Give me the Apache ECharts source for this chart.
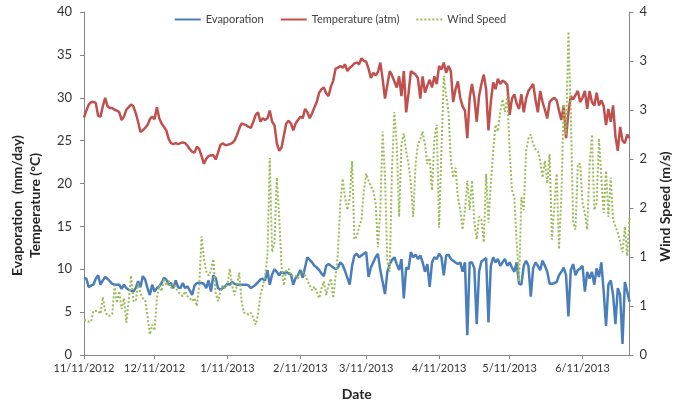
<!DOCTYPE html>
<html>
<head>
<meta charset="utf-8">
<script src="https://cdn.jsdelivr.net/npm/echarts@6/dist/echarts.min.js"></script>
<style>
html,body{margin:0;padding:0;background:#fff;}
#chart{width:680px;height:406px;}
</style>
</head>
<body>
<div id="chart"></div>
<script>
// Daily series, 11/11/2012 .. 7/1/2013 (233 days)
const startDate = [2012, 11, 11];
const dayCount = 233;

const evaporation = [
  9.0, 8.9, 7.9, 8.1, 8.2, 8.9, 9.3, 8.2, 8.7, 9.1,
  8.9, 8.6, 8.3, 8.2, 8.2, 8.2, 7.7, 8.2, 7.8, 7.6,
  7.5, 7.4, 7.8, 8.6, 7.9, 9.2, 8.8, 7.8, 7.0, 8.2,
  7.4, 7.8, 8.0, 8.4, 9.0, 8.8, 8.2, 8.4, 7.8, 8.7,
  7.9, 7.8, 8.4, 7.8, 8.0, 7.5, 7.0, 8.1, 8.4, 8.4,
  8.4, 8.3, 7.8, 8.7, 7.4, 9.3, 9.0, 7.8, 7.6, 7.8,
  8.0, 8.3, 8.2, 8.5, 8.3, 8.2, 8.2, 8.2, 8.2, 8.2,
  8.1, 7.8, 8.0, 8.2, 8.5, 8.8, 8.9, 8.7, 9.9, 8.2,
  9.4, 10.0, 9.7, 9.3, 9.7, 9.5, 9.7, 9.5, 9.4, 8.2,
  9.0, 9.3, 9.9, 9.0, 10.2, 11.4, 11.1, 10.8, 10.4, 10.2,
  9.9, 9.5, 9.2, 10.4, 10.6, 10.4, 10.2, 10.0, 10.2, 10.8,
  10.5, 9.8, 9.0, 8.2, 10.4, 11.6, 11.8, 11.4, 11.6, 11.8,
  12.0, 9.1, 10.2, 10.8, 11.4, 11.8, 9.9, 8.5, 7.1, 9.7,
  10.6, 11.1, 11.4, 10.6, 9.9, 11.2, 6.6, 10.2, 10.0, 12.0,
  11.4, 11.7, 11.2, 11.6, 10.8, 9.7, 10.6, 7.95, 10.8, 11.4,
  11.2, 11.8, 11.4, 9.3, 11.6, 11.7, 11.2, 11.0, 10.8, 10.6,
  10.8, 9.7, 10.8, 2.3, 10.8, 10.8, 10.1, 3.6, 9.7, 10.9,
  11.1, 11.3, 3.8, 10.4, 11.4, 10.8, 11.2, 10.4, 10.8, 11.2,
  10.4, 10.8, 10.2, 9.7, 10.8, 8.3, 8.2, 10.4, 11.0, 10.4,
  6.8, 10.1, 10.8, 10.4, 9.9, 11.0, 10.4, 9.7, 8.3, 8.3,
  8.4, 8.5, 9.3, 9.7, 10.2, 9.3, 4.5, 9.9, 10.6, 9.3,
  9.9, 10.1, 10.4, 7.4, 9.7, 8.9, 9.7, 8.2, 10.1, 9.1,
  10.8, 7.4, 3.4, 8.2, 8.7, 7.0, 3.6, 7.8, 7.0, 1.3,
  8.5, 7.4, 6.2
];

const temperature = [
  27.7, 28.5, 29.2, 29.5, 29.5, 29.4, 27.9, 27.8, 29.0, 30.0,
  29.0, 28.8, 28.8, 28.6, 28.5, 28.3, 27.4, 27.8, 28.6, 28.9,
  29.2, 29.0, 28.2, 27.2, 26.0, 26.2, 26.5, 26.8, 27.5, 27.8,
  27.5, 28.9, 27.6, 27.0, 26.6, 26.2, 25.2, 24.7, 24.6, 24.7,
  24.6, 24.7, 24.8, 24.7, 24.4, 24.0, 23.7, 23.6, 24.3, 24.0,
  23.2, 22.3, 22.9, 23.2, 23.3, 23.3, 22.8, 23.6, 24.5, 24.7,
  24.5, 24.5, 24.6, 24.7, 25.0, 25.6, 26.4, 27.0, 26.9, 26.8,
  26.6, 26.5, 27.2, 28.0, 28.3, 27.2, 27.6, 27.4, 27.6, 28.5,
  27.2, 26.8, 24.7, 23.8, 24.2, 25.6, 27.0, 27.3, 27.0, 26.2,
  27.0, 27.4, 27.8, 27.6, 28.7, 28.3, 27.6, 28.2, 28.9, 29.5,
  30.6, 31.0, 31.2, 30.5, 30.2, 31.3, 32.0, 33.4, 33.5, 33.7,
  33.5, 33.9, 33.1, 33.5, 33.7, 34.0, 34.1, 33.9, 34.6, 34.3,
  34.2, 33.4, 32.3, 32.9, 32.6, 33.0, 34.1, 32.2, 29.9, 31.5,
  33.1, 32.6, 31.9, 31.2, 32.5, 30.2, 33.1, 28.3, 30.5, 33.1,
  32.9, 32.7, 32.3, 29.9, 32.5, 30.6, 31.4, 32.1, 31.2, 32.5,
  31.6, 33.7, 33.3, 34.1, 32.9, 33.7, 33.1, 29.5, 31.0, 31.9,
  30.0, 29.0, 28.5, 25.3, 30.0, 31.6, 30.0, 27.2, 30.2, 31.6,
  32.7, 31.0, 26.2, 29.5, 31.8, 31.0, 32.2, 31.6, 32.0, 31.8,
  31.5, 28.0, 29.9, 30.4, 29.3, 28.7, 30.4, 28.3, 29.9, 30.8,
  31.2, 31.6, 29.8, 28.3, 30.8, 29.5, 28.6, 27.6, 29.5, 29.8,
  30.0, 29.7, 28.5, 27.4, 29.1, 25.3, 28.3, 30.2, 29.8, 30.3,
  30.8, 29.5, 30.0, 30.8, 28.7, 30.8, 29.5, 29.1, 30.6, 29.1,
  29.7, 29.0, 26.8, 28.7, 27.2, 29.1, 25.5, 23.8, 26.6, 25.0,
  24.7, 25.7, 25.3
];

const windSpeed = [
  0.36, 0.35, 0.34, 0.34, 0.45, 0.45, 0.45, 0.42, 0.59, 0.45,
  0.40, 0.40, 0.42, 0.71, 0.53, 0.65, 0.47, 0.58, 0.33, 0.55,
  0.81, 0.55, 0.55, 0.73, 0.63, 0.58, 0.56, 0.40, 0.21, 0.31,
  0.25, 0.58, 0.71, 0.65, 0.78, 0.71, 0.76, 0.68, 0.73, 0.68,
  0.65, 0.62, 0.60, 0.65, 0.60, 0.58, 0.55, 0.58, 0.50, 0.71,
  1.21, 0.98, 0.85, 0.81, 0.86, 0.98, 0.63, 0.55, 0.65, 0.71,
  0.68, 0.72, 0.88, 0.71, 0.61, 0.71, 0.84, 0.55, 0.43, 0.43,
  0.41, 0.43, 0.38, 0.31, 0.41, 0.61, 0.70, 0.81, 1.01, 2.01,
  1.05, 1.15, 1.81, 1.41, 0.91, 0.71, 0.86, 0.88, 0.81, 0.81,
  0.81, 0.78, 0.83, 0.85, 0.81, 0.76, 0.71, 0.66, 0.70, 0.64,
  0.58, 0.68, 0.75, 0.61, 0.71, 0.78, 0.58, 0.81, 1.05, 1.55,
  1.80, 1.61, 1.48, 1.60, 1.98, 1.18, 1.21, 1.31, 1.38, 1.68,
  1.85, 1.78, 1.72, 1.68, 1.55, 1.10, 1.48, 2.28, 1.81, 0.95,
  0.85, 1.91, 2.48, 2.15, 1.41, 2.15, 2.26, 2.08, 1.95, 1.75,
  1.41, 1.95, 2.15, 2.20, 2.28, 2.15, 1.95, 2.01, 1.68, 2.21,
  2.35, 1.30, 2.08, 2.85, 2.65, 2.48, 1.98, 1.81, 1.91, 1.61,
  1.48, 1.28, 1.48, 1.78, 1.48, 1.78, 1.35, 1.18, 1.41, 1.38,
  1.15, 1.85, 1.35, 1.75, 2.08, 2.35, 2.28, 2.48, 2.61, 2.48,
  2.65, 2.08, 1.68, 1.61, 1.15, 0.75, 1.61, 1.48, 2.08, 2.21,
  2.25, 2.15, 2.10, 2.08, 1.98, 1.81, 1.98, 1.75, 2.05, 1.18,
  1.51, 1.85, 1.08, 1.61, 2.55, 2.25, 3.30, 2.48, 1.35, 1.28,
  1.95, 1.95, 1.55, 1.45, 1.28, 1.95, 2.25, 1.48, 1.55, 2.21,
  1.81, 1.45, 1.88, 1.41, 1.81, 1.38, 1.31, 1.25, 1.15, 1.05,
  1.31, 1.01, 1.41
];

const leftTicks = [0, 5, 10, 15, 20, 25, 30, 35, 40];
const rightTicks = [0, 0.5, 1, 1.5, 2, 2.5, 3, 3.5];

// category labels M/D/YYYY
const dates = [];
for (let i = 0; i < dayCount; i++) {
  const d = new Date(startDate[0], startDate[1] - 1, startDate[2] + i);
  dates.push((d.getMonth() + 1) + '/' + d.getDate() + '/' + d.getFullYear());
}
const isLabelDay = (idx, val) => val.split('/')[1] === '11';

const FONT = 'Lato';
const axisLineStyle = { color: '#868686', width: 1 };

const chart = echarts.init(document.getElementById('chart'), null, { renderer: 'canvas' });
chart.setOption({
  animation: false,
  backgroundColor: '#ffffff',
  textStyle: { fontFamily: FONT },
  legend: {
    top: 9,
    left: 'center',
    itemWidth: 26,
    itemHeight: 10,
    itemGap: 16,
    itemStyle: { opacity: 0, borderWidth: 0 },
    textStyle: { fontFamily: FONT, fontSize: 11, color: '#404040' },
    data: ['Evaporation', 'Temperature (atm)', 'Wind Speed']
  },
  grid: { left: 70, right: 45, top: 12, bottom: 44 },
  xAxis: {
    type: 'category',
    data: dates,
    boundaryGap: false,
    name: 'Date',
    nameLocation: 'middle',
    nameGap: 32,
    nameTextStyle: { fontFamily: FONT, fontSize: 14, fontWeight: 'bold', color: '#262626' },
    axisLine: { lineStyle: axisLineStyle },
    axisTick: { interval: isLabelDay, length: 4, lineStyle: axisLineStyle },
    axisLabel: { interval: isLabelDay, fontSize: 11, color: '#333333', margin: 8, fontFamily: FONT },
    splitLine: { show: false }
  },
  yAxis: [
    {
      type: 'value',
      min: leftTicks[0],
      max: leftTicks[leftTicks.length - 1],
      interval: 5,
      name: 'Evaporation  (mm/day)\nTemperature (°C)',
      nameLocation: 'middle',
      nameGap: 40,
      nameRotate: 90,
      nameTextStyle: { fontFamily: FONT, fontSize: 14, fontWeight: 'bold', color: '#262626', lineHeight: 18, padding: [0, 44, 0, 0] },
      axisLine: { show: true, lineStyle: axisLineStyle },
      axisTick: { show: true, length: 4, lineStyle: axisLineStyle },
      axisLabel: { fontSize: 13, color: '#333333', margin: 12, fontFamily: FONT },
      splitLine: { show: false }
    },
    {
      type: 'value',
      min: rightTicks[0],
      max: rightTicks[rightTicks.length - 1],
      interval: 0.5,
      name: 'Wind Speed (m/s)',
      nameLocation: 'middle',
      nameGap: 27,
      nameRotate: 90,
      nameTextStyle: { fontFamily: FONT, fontSize: 14, fontWeight: 'bold', color: '#262626', padding: [0, 46, 0, 0] },
      axisLine: { show: true, lineStyle: axisLineStyle },
      axisTick: { show: true, length: 4, lineStyle: axisLineStyle },
      axisLabel: { fontSize: 13, color: '#333333', margin: 10, fontFamily: FONT,
        formatter: v => String(Math.round(v)) },
      splitLine: { show: false }
    }
  ],
  series: [
    {
      name: 'Evaporation',
      type: 'line',
      data: evaporation,
      yAxisIndex: 0,
      symbol: 'none',
      lineStyle: { color: '#4A7EBB', width: 2.5 },
      itemStyle: { color: '#4A7EBB' }
    },
    {
      name: 'Temperature (atm)',
      type: 'line',
      data: temperature,
      yAxisIndex: 0,
      symbol: 'none',
      lineStyle: { color: '#C0504D', width: 2.5 },
      itemStyle: { color: '#C0504D' }
    },
    {
      name: 'Wind Speed',
      type: 'line',
      data: windSpeed,
      yAxisIndex: 1,
      symbol: 'none',
      lineStyle: { color: '#9BBB59', width: 2, type: [2, 2] },
      itemStyle: { color: '#9BBB59' }
    }
  ]
});
</script>
</body>
</html>
